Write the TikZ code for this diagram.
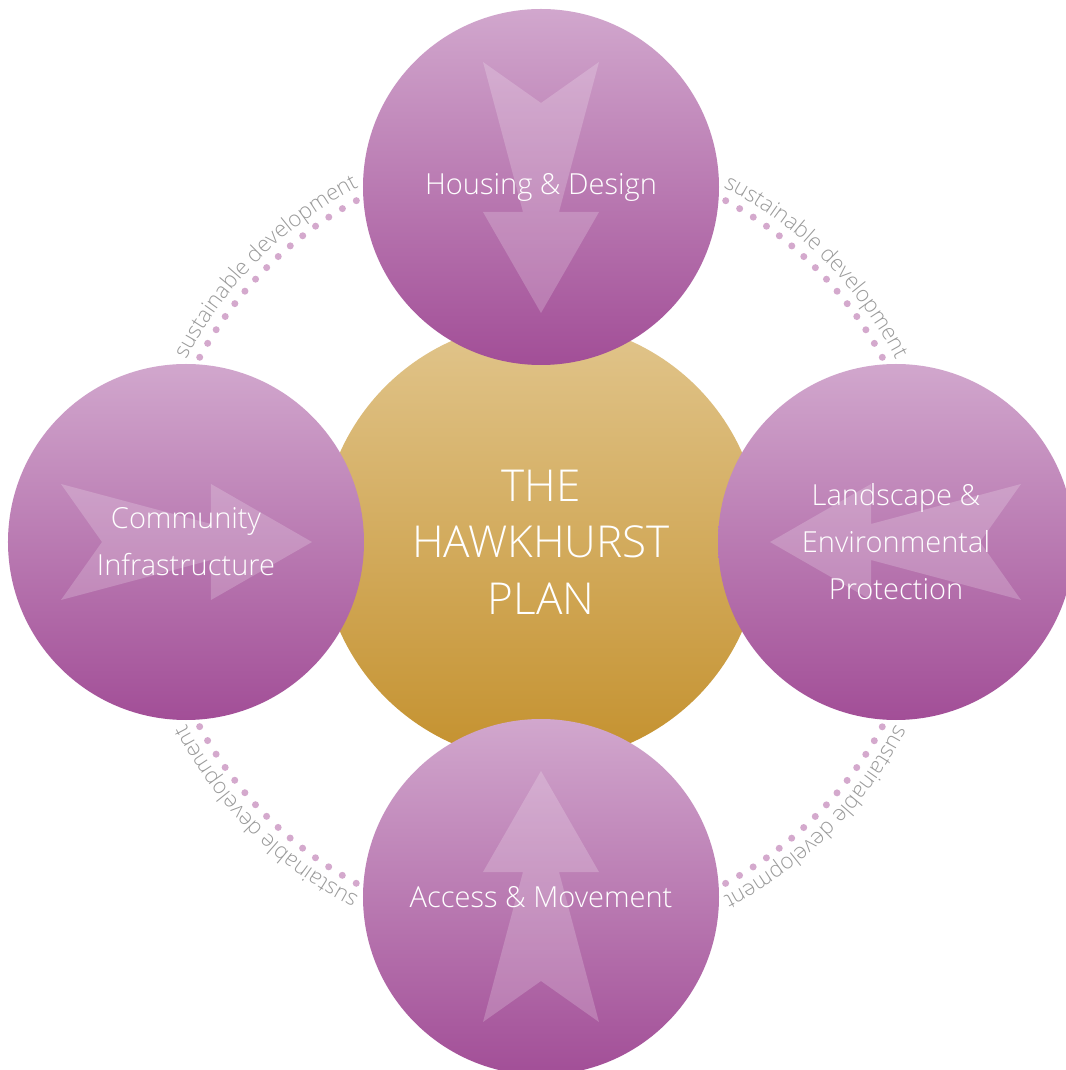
\documentclass[tikz,border=0pt]{standalone}
\usepackage{fontspec}
\setmainfont{Open Sans Light}
\usepackage{tikz}
\usetikzlibrary{positioning, decorations.text}

\definecolor{goldtop}{HTML}{E1C58C}
\definecolor{goldbottom}{HTML}{C4912E}
\definecolor{petaltop}{HTML}{D1A7CD}
\definecolor{petalbottom}{HTML}{A24E97}
\definecolor{dotpink}{HTML}{D4A9CD}
\definecolor{sdgray}{HTML}{9A9A9A}

\begin{document}
\begin{tikzpicture}[
  x=1pt, y=1pt,
  hub/.style       = {circle, minimum size=440pt, inner sep=0pt, top color=goldtop, bottom color=goldbottom,
                      text=white, align=center, font=\fontsize{44}{56.5}\selectfont},
  petal/.style     = {circle, minimum size=356pt, inner sep=0pt, top color=petaltop, bottom color=petalbottom,
                      text=white, align=center, font=\fontsize{29}{47}\selectfont},
  arrowfill/.style = {white, fill opacity=0.2},
  dotring/.style   = {dotpink, line width=7pt, line cap=round, dash pattern=on 0pt off 16.04pt},
  sdtext/.style    = {decorate, decoration={text along path, text align=center,
                      text={|\fontsize{22}{24}\selectfont\color{sdgray}|sustainable development}}},
  node distance=355pt, on grid
]

  \useasboundingbox (-541,-528) rectangle (524,542);

  % the plan in the middle
  \node[hub] (plan) at (0,0) {THE\\HAWKHURST\\PLAN};

  % dotted ring and its labels, behind the petals
  \draw[dotring] (plan.center) circle[radius=388pt];
  \foreach \c in {135,45,-45,-135}
    \path[sdtext] ([shift={(\c+30:399)}]plan.center)
      arc[start angle=\c+30, end angle=\c-30, radius=399pt];

  % four petals round the plan
  \node[petal, above=of plan] (housing) {Housing \& Design};
  \node[petal, left=of plan] (community) {Community\\Infrastructure};
  \node[petal, right=of plan] (landscape) {Landscape \&\\Environmental\\Protection};
  \node[petal, below=of plan] (access) {Access \& Movement};

  % notched arrows, pointing down before rotation
  \foreach \p/\r in {housing/0, community/90, landscape/-90, access/180}
    \fill[arrowfill, shift={(\p.center)}, rotate=\r]
      (-58,125) -- (0,84) -- (58,125) -- (18,-25) -- (58,-25) -- (0,-126)
      -- (-58,-25) -- (-18,-25) -- cycle;

\end{tikzpicture}
\end{document}
